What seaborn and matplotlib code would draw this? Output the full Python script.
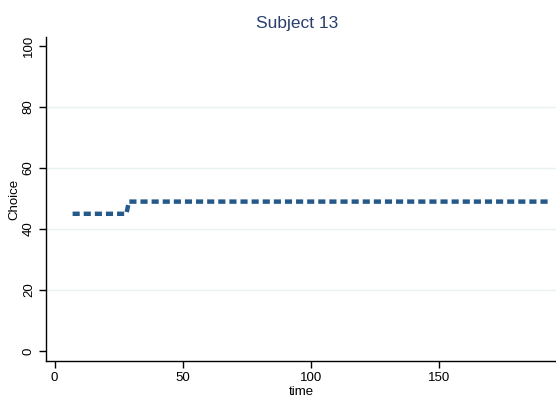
import numpy as np
import pandas as pd
import seaborn as sns
import matplotlib.pyplot as plt

# choice path for subject 13
time = [7, 28, 29, 193]
choice = [45, 45, 49, 49]
df = pd.DataFrame({'time': time, 'Choice': choice})

sns.set_style('white')
plt.rcParams['font.family'] = ['Liberation Sans', 'DejaVu Sans']

fig = plt.figure(figsize=(5.56, 4.05), dpi=100)
ax = fig.add_axes([0.0827, 0.1086, 0.9173, 0.80])

sns.lineplot(data=df, x='time', y='Choice', ax=ax, color='#24598a',
             linewidth=3.2, linestyle=(0, (1.6, 0.9)))

ax.set_xlim(-3.4, 195.8)
ax.set_ylim(-3.3, 103)
ax.set_xticks([0, 50, 100, 150])
ax.set_yticks([0, 20, 40, 60, 80, 100])
for y in [20, 40, 60, 80]:
    ax.axhline(y, color='#eaf2f3', linewidth=1, zorder=0)

ax.tick_params(axis='both', direction='out', length=5, width=1, color='black',
               labelcolor='black', labelsize=9.5, bottom=True, left=True, pad=3)
for lab in ax.get_yticklabels():
    lab.set_rotation(90)
    lab.set_va('center')

sns.despine(ax=ax)
ax.spines['left'].set_color('black')
ax.spines['bottom'].set_color('black')
ax.spines['left'].set_linewidth(1)
ax.spines['bottom'].set_linewidth(1)

ax.set_xlabel('time', fontsize=9.5, labelpad=1, color='black')
ax.set_ylabel('Choice', fontsize=9.5, labelpad=2, color='black')
fig.text(0.535, 0.943, 'Subject 13', ha='center', va='center', fontsize=12.5,
         color='#2a3f6e')

fig.savefig('out.png', dpi=100, facecolor='white')
